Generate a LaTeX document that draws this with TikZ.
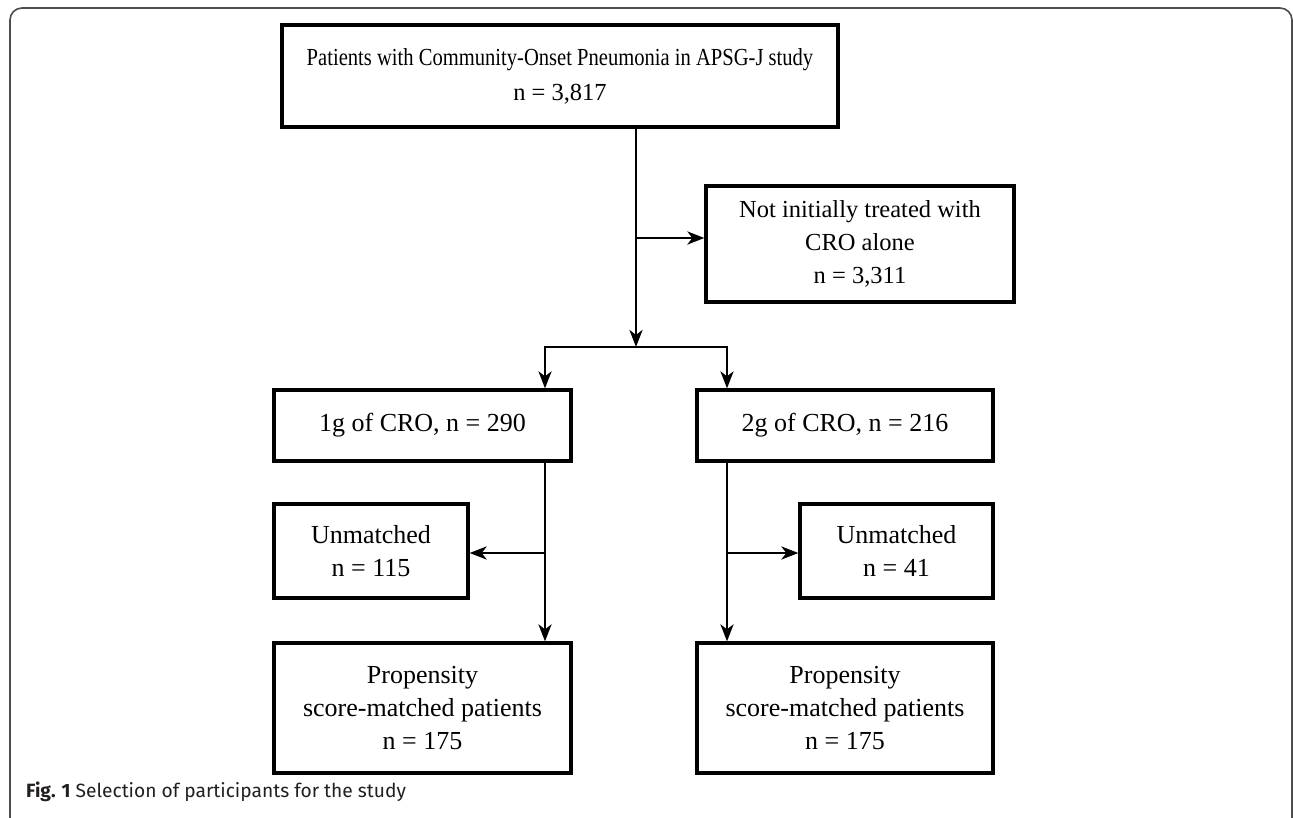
\documentclass[tikz,border=0pt]{standalone}
\usepackage{fontspec}
\setmainfont{Liberation Serif}
\newfontfamily\narrowSerif[FakeStretch=0.84]{Liberation Serif}
\newfontfamily\capfont{Fira Sans}
\usepackage{xcolor}
\usetikzlibrary{arrows.meta,calc}
\definecolor{frameGray}{HTML}{4D4D4D}
\definecolor{capInk}{HTML}{231F20}
\tikzset{
    flowBox/.style={draw=black, fill=white, line width=3.2pt, inner sep=0pt,
                    align=center, font=\fontsize{26}{33}\selectfont},
    link/.style={line width=2.8pt, line cap=rect},
    arr/.style={line width=2.8pt, -{Stealth[length=17pt,width=13pt,inset=5pt]}},
    frameLine/.style={draw=frameGray, line width=1.6pt, rounded corners=12pt},
    capText/.style={font=\capfont\fontsize{19.2}{22}\selectfont, color=capInk,
                    anchor=base west, inner sep=0pt},
}

\begin{document}
\begin{tikzpicture}[x=1pt,y=-1pt,>=Stealth]
\useasboundingbox (0,0) rectangle (1293,818);

% ---------------- FRAME + CAPTION ----------------
\draw[frameLine] (10,840) |- (1292,8) -- (1292,840);
\node[capText] (figCap) at (26,797) {\textbf{Fig. 1} Selection of participants for the study};

% ---------------- BOXES ----------------
\node[flowBox, font=\fontsize{24.5}{35}\selectfont,
      minimum width=556pt, minimum height=102pt] (allPts) at (560,76)
     {{\narrowSerif Patients with Community-Onset Pneumonia in APSG-J study}\\n = 3,817};
\node[flowBox, font=\fontsize{24.5}{33}\selectfont,
      minimum width=308pt, minimum height=116pt] (notCro) at (860,244)
     {Not initially treated with\\CRO alone\\n = 3,311};

\node[flowBox, minimum width=297pt, minimum height=71pt] (oneG) at (422.5,425.5)
     {1g of CRO, n = 290};
\node[flowBox, minimum width=296pt, minimum height=71pt] (twoG) at (845,425.5)
     {2g of CRO, n = 216};

\node[flowBox, minimum width=194pt, minimum height=94pt] (unL) at (371,551)
     {Unmatched\\n = 115};
\node[flowBox, minimum width=193pt, minimum height=94pt] (unR) at (896.5,551)
     {Unmatched\\n = 41};

\node[flowBox, minimum width=297pt, minimum height=130pt] (propL) at (422.5,708)
     {Propensity\\score-matched patients\\n = 175};
\node[flowBox, minimum width=296pt, minimum height=130pt] (propR) at (845,708)
     {Propensity\\score-matched patients\\n = 175};

% ---------------- CONNECTORS ----------------
\coordinate (trunk) at (636,347);
\coordinate (exclTap) at (636,238);
\coordinate (splitL) at (545,347);
\coordinate (splitR) at (727,347);
\coordinate (tapL) at (545,553);
\coordinate (tapR) at (727,553);

% trunk down to the split, with exclusion branch
\draw[arr] (allPts.south -| trunk) -- (trunk);
\draw[arr] (exclTap) -- (exclTap -| notCro.west);
% split into dose groups
\draw[link] (splitL) -- (splitR);
\draw[arr] (splitL) -- (splitL |- oneG.north);
\draw[arr] (splitR) -- (splitR |- twoG.north);
% 1g column
\draw[arr] (oneG.south -| tapL) -- (tapL |- propL.north);
\draw[arr] (tapL) -- (tapL -| unL.east);
% 2g column
\draw[arr] (twoG.south -| tapR) -- (tapR |- propR.north);
\draw[arr] (tapR) -- (tapR -| unR.west);

\end{tikzpicture}
\end{document}
